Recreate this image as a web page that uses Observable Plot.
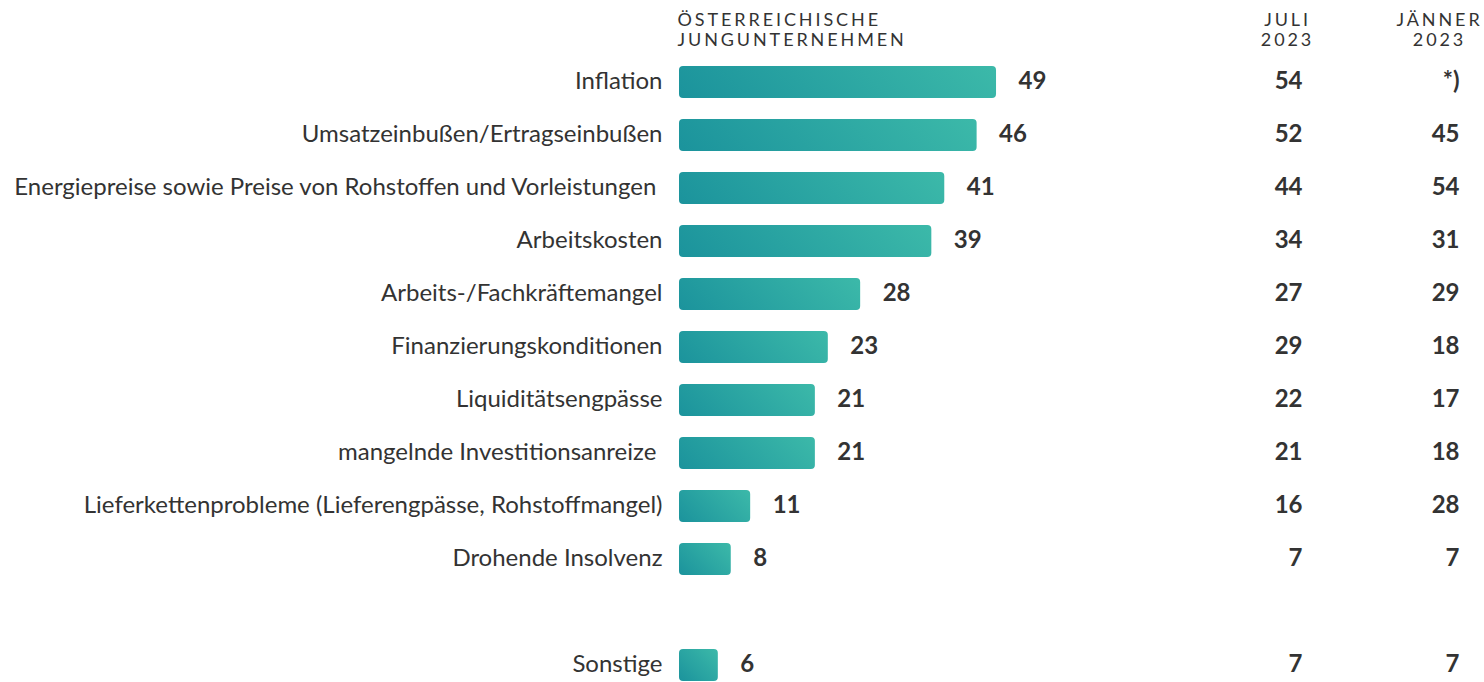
<!DOCTYPE html>
<html>
<head>
<meta charset="utf-8">
<script src="https://cdn.jsdelivr.net/npm/d3@7"></script>
<script src="https://cdn.jsdelivr.net/npm/@observablehq/plot@0.6"></script>
<style>
  html, body { margin: 0; padding: 0; background: #fff; }
  #chart { width: 1484px; height: 682px; }
</style>
</head>
<body>
<div id="chart"></div>
<script>
const categories = [
  "Inflation",
  "Umsatzeinbußen/Ertragseinbußen",
  "Energiepreise sowie Preise von Rohstoffen und Vorleistungen\u00a0",
  "Arbeitskosten",
  "Arbeits-/Fachkräftemangel",
  "Finanzierungskonditionen",
  "Liquiditätsengpässe",
  "mangelnde Investitionsanreize\u00a0",
  "Lieferkettenprobleme (Lieferengpässe, Rohstoffmangel)",
  "Drohende Insolvenz",
  "Sonstige"
];
const values = [49, 46, 41, 39, 28, 23, 21, 21, 11, 8, 6];
const juli2023 = ["54", "52", "44", "34", "27", "29", "22", "21", "16", "7", "7"];
const jaenner2023 = ["*)", "45", "54", "31", "29", "18", "17", "18", "28", "7", "7"];
const headerMain = "ÖSTERREICHISCHE\nJUNGUNTERNEHMEN";
const headerJuli = "JULI\n2023";
const headerJaenner = "JÄNNER\n2023";
const gapRow = "\u2002";

const rows = categories.map((c, i) => ({cat: c, value: values[i], juli: juli2023[i], jaenner: jaenner2023[i]}));
const yDomain = [...categories.slice(0, 10), gapRow, categories[10]];

const ink = "#333333";
const gradStart = "#1b939c";
const gradEnd = "#3cb9a9";

const plot = Plot.plot({
  width: 1484,
  height: 682,
  margin: 0,
  style: {fontFamily: "Lato, 'Open Sans', sans-serif", fontSize: "24px", color: ink, background: "#fff"},
  x: {domain: [0, 100], range: [679, 1326], axis: null},
  y: {type: "band", domain: yDomain, range: [53.3, 693.7], paddingInner: 0.4, paddingOuter: 0.2, axis: null},
  marks: [
    Plot.barX(rows, {x: "value", y: "cat", fill: gradStart, rx: 4}),
    Plot.text(rows, {x: 0, y: "cat", text: "cat", textAnchor: "end", dx: -17, dy: -1, fill: ink, fontSize: 24}),
    Plot.text(rows, {x: "value", y: "cat", text: d => String(d.value), textAnchor: "start", dx: 22, dy: -1, fill: ink, fontWeight: "bold", fontSize: 24}),
    Plot.text(rows, {y: "cat", text: "juli", frameAnchor: "right", textAnchor: "end", dx: -182, dy: -1, fill: ink, fontWeight: "bold", fontSize: 24}),
    Plot.text(rows, {y: "cat", text: "jaenner", frameAnchor: "right", textAnchor: "end", dx: -25, dy: -1, fill: ink, fontWeight: "bold", fontSize: 24}),
    Plot.text([headerMain], {x: 0, text: d => d, frameAnchor: "top", textAnchor: "start", lineAnchor: "top", dx: -2, dy: 10.5, lineHeight: 1.15, fontSize: 18, fill: ink}),
    Plot.text([headerJuli], {text: d => d, frameAnchor: "top-right", textAnchor: "middle", lineAnchor: "top", dx: -197, dy: 10.5, lineHeight: 1.15, fontSize: 18, fill: ink}),
    Plot.text([headerJaenner], {text: d => d, frameAnchor: "top-right", textAnchor: "middle", lineAnchor: "top", dx: -45, dy: 10.5, lineHeight: 1.15, fontSize: 18, fill: ink})
  ]
});

// letter-spaced headers
const headers = [headerMain, headerJuli, headerJaenner].map(h => h.replace(/\n/g, ""));
plot.querySelectorAll("text").forEach(t => {
  if (headers.includes(t.textContent)) t.setAttribute("letter-spacing", "2.9");
});

// 45° gradient per bar (dark bottom-left to light top-right)
const defs = d3.select(plot).insert("defs", ":first-child");
plot.querySelectorAll('g[aria-label="bar"] rect').forEach((r, i) => {
  const w = +r.getAttribute("width"), h = +r.getAttribute("height");
  const t = (w + h) / (w * w + h * h);
  const id = "barGrad" + i;
  const g = defs.append("linearGradient").attr("id", id)
    .attr("x1", 0).attr("y1", 1).attr("x2", t * w).attr("y2", 1 - t * h);
  g.append("stop").attr("offset", "0%").attr("stop-color", gradStart);
  g.append("stop").attr("offset", "100%").attr("stop-color", gradEnd);
  r.setAttribute("fill", `url(#${id})`);
});

document.getElementById("chart").appendChild(plot);
</script>
</body>
</html>
